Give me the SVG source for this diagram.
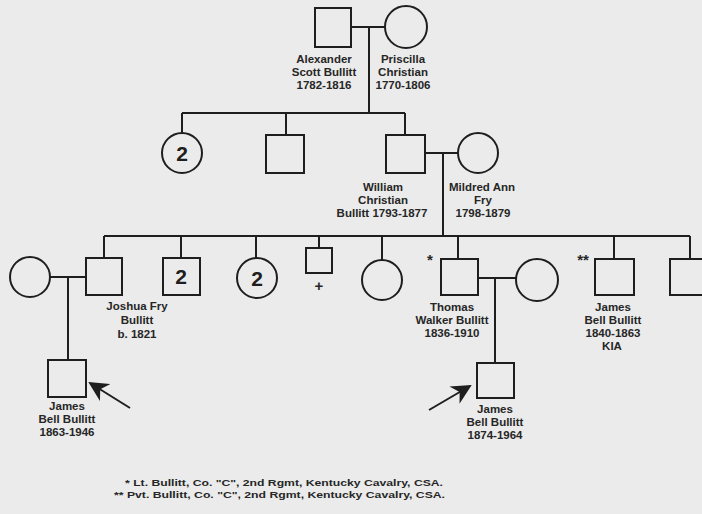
<svg xmlns="http://www.w3.org/2000/svg" width="702" height="514" viewBox="0 0 702 514">
<style>
.bg{fill:#ebebeb}
.n{fill:none;stroke:#1e1e1e;stroke-width:2}
.c{fill:none;stroke:#1e1e1e;stroke-width:2}
.t{font-family:"Liberation Sans",Arial,sans-serif;font-size:11.5px;font-weight:bold;fill:#262626;text-anchor:middle}
.num{font-family:"Liberation Sans",Arial,sans-serif;font-size:21px;font-weight:bold;fill:#1e1e1e;text-anchor:middle}
.f{font-family:"Liberation Sans",Arial,sans-serif;font-size:9.5px;font-weight:bold;fill:#262626}
.star{font-family:"Liberation Sans",Arial,sans-serif;font-size:15px;font-weight:bold;fill:#262626;text-anchor:middle}
</style>
<defs>
<marker id="ah" viewBox="0 0 10 10" refX="9" refY="5" markerWidth="10" markerHeight="10" markerUnits="strokeWidth" orient="auto">
<path d="M0,0 L10,5 L0,10 L3,5 Z" fill="#1e1e1e"/>
</marker>
</defs>
<rect class="bg" x="0" y="0" width="702" height="514"/>
<g id="connectors">
<path class="c" d="M351,27 H385 M369,27 V113 M182,113 H405 M182,113 V133 M286,113 V135 M405,113 V135"/>
<path class="c" d="M425,153 H458 M443,153 V236 M104,236 H690"/>
<path class="c" d="M104,236 V258 M181,236 V258 M256,236 V258 M319,236 V248 M382,236 V260 M458,236 V259 M614,236 V259 M690,236 V259"/>
<path class="c" d="M50,277 H86 M68,277 V360"/>
<path class="c" d="M478,278 H516 M495,278 V363"/>
<line class="c" x1="130" y1="408" x2="90" y2="383" marker-end="url(#ah)"/>
<line class="c" x1="429" y1="410" x2="470" y2="386" marker-end="url(#ah)"/>
</g>
<g id="alexander"><rect class="n" x="315" y="8" width="36" height="39"/>
<text class="t" x="324" y="63">Alexander</text><text class="t" x="324" y="76">Scott Bullitt</text><text class="t" x="324" y="89">1782-1816</text></g>
<g id="priscilla"><circle class="n" cx="406" cy="27" r="21"/>
<text class="t" x="403" y="63">Priscilla</text><text class="t" x="403" y="76">Christian</text><text class="t" x="403" y="89">1770-1806</text></g>
<g id="sister2"><circle class="n" cx="182" cy="153" r="20"/><text class="num" x="182" y="161">2</text></g>
<g id="brother"><rect class="n" x="266" y="135" width="38" height="38"/></g>
<g id="william"><rect class="n" x="386" y="135" width="39" height="38"/>
<text class="t" x="383" y="191">William</text><text class="t" x="383" y="204">Christian</text><text class="t" x="382" y="217">Bullitt 1793-1877</text></g>
<g id="mildred"><circle class="n" cx="478" cy="153" r="20"/>
<text class="t" x="482" y="191">Mildred Ann</text><text class="t" x="483" y="204">Fry</text><text class="t" x="483" y="217">1798-1879</text></g>
<g id="joshua-wife"><circle class="n" cx="30" cy="277" r="20"/></g>
<g id="joshua"><rect class="n" x="86" y="258" width="36" height="37"/>
<text class="t" x="137" y="310">Joshua Fry</text><text class="t" x="137" y="324">Bullitt</text><text class="t" x="137" y="338">b. 1821</text></g>
<g id="brothers2"><rect class="n" x="163" y="258" width="37" height="37"/><text class="num" x="181" y="284">2</text></g>
<g id="sisters2"><circle class="n" cx="257" cy="278" r="20"/><text class="num" x="257" y="286">2</text></g>
<g id="deceased"><rect class="n" x="306" y="248" width="26" height="25"/><text class="star" x="319" y="291">+</text></g>
<g id="sister"><circle class="n" cx="382" cy="280" r="20"/></g>
<g id="thomas"><text class="star" x="430" y="265">*</text><rect class="n" x="441" y="259" width="37" height="36"/>
<text class="t" x="452" y="311">Thomas</text><text class="t" x="452" y="324">Walker Bullitt</text><text class="t" x="452" y="337">1836-1910</text></g>
<g id="thomas-wife"><circle class="n" cx="537" cy="280" r="21"/></g>
<g id="james-kia"><text class="star" x="583" y="265">**</text><rect class="n" x="595" y="259" width="39" height="36"/>
<text class="t" x="613" y="311">James</text><text class="t" x="613" y="324">Bell Bullitt</text><text class="t" x="613" y="337">1840-1863</text><text class="t" x="612" y="350">KIA</text></g>
<g id="last-brother"><rect class="n" x="670" y="259" width="40" height="36"/></g>
<g id="james-1863"><rect class="n" x="48" y="360" width="38" height="37"/>
<text class="t" x="67" y="410">James</text><text class="t" x="67" y="423">Bell Bullitt</text><text class="t" x="67" y="436">1863-1946</text></g>
<g id="james-1874"><rect class="n" x="477" y="363" width="37" height="35"/>
<text class="t" x="495" y="413">James</text><text class="t" x="495" y="426">Bell Bullitt</text><text class="t" x="495" y="439">1874-1964</text></g>
<g id="footnotes">
<text class="f" x="125" y="486" textLength="318" lengthAdjust="spacingAndGlyphs">* Lt. Bullitt, Co. "C", 2nd Rgmt, Kentucky Cavalry, CSA.</text>
<text class="f" x="114" y="498" textLength="331" lengthAdjust="spacingAndGlyphs">** Pvt. Bullitt, Co. "C", 2nd Rgmt, Kentucky Cavalry, CSA.</text>
</g>
</svg>
